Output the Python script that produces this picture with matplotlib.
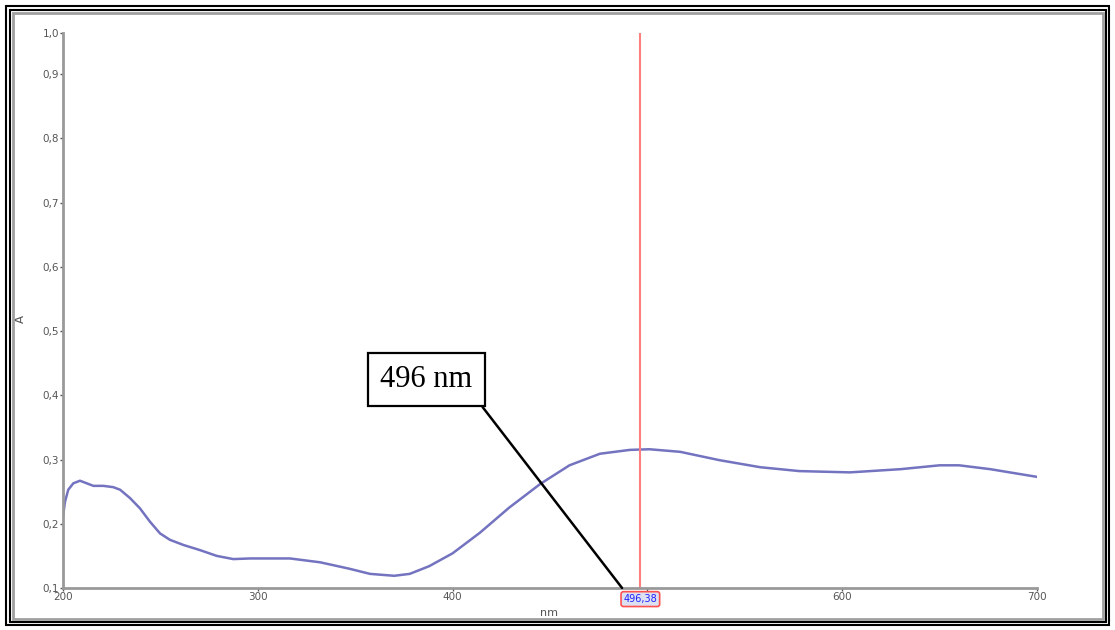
import numpy as np
import matplotlib.pyplot as plt
from matplotlib.patches import Rectangle

# absorption spectrum
wavelength = [200, 201, 202.7, 205.3, 208.7, 211.3, 215.6, 220.7, 225.8,
              229.3, 234.4, 239.5, 244.7, 249.8, 254.9, 261.8, 270.3, 278.9,
              287.4, 296, 304.6, 316.5, 332, 347, 357.6, 370, 378, 388,
              400, 414, 429, 445, 460, 475.6, 491, 501, 516.8, 537, 558,
              578, 604, 630, 650, 660, 676, 700]
absorb = [0.211, 0.234, 0.253, 0.263, 0.267, 0.264, 0.259, 0.259, 0.257,
          0.253, 0.240, 0.224, 0.203, 0.185, 0.175, 0.167, 0.159, 0.150,
          0.145, 0.146, 0.146, 0.146, 0.140, 0.130, 0.122, 0.119, 0.122,
          0.134, 0.154, 0.186, 0.225, 0.262, 0.291, 0.309, 0.315, 0.316,
          0.312, 0.299, 0.288, 0.282, 0.280, 0.285, 0.291, 0.291, 0.285,
          0.273]

peak = 496.38
y_ticks = [0.1, 0.2, 0.3, 0.4, 0.5, 0.6, 0.7, 0.8, 0.9]
x_ticks = [200, 300, 400, 500, 600, 700]
# the 500 label sits under the cursor readout, so it is not shown
x_labels = ['200', '300', '400', '', '600', '700']
y_top = 0.964

fig = plt.figure(figsize=(11.15, 6.3), dpi=100)
W, H = 1115, 630

# window frame
def frame(x0, y0, x1, y1, color, lw):
    fig.patches.append(Rectangle((x0 / W, 1 - y1 / H), (x1 - x0) / W,
                                 (y1 - y0) / H, transform=fig.transFigure,
                                 fill=False, edgecolor=color, lw=lw))

frame(6, 6, 1109, 625, 'black', 1.5)
frame(10, 10, 1106, 622, 'black', 1.5)
frame(13, 13, 1103, 619, '#a0a0a0', 2)

ax = fig.add_axes([63 / W, 1 - 588 / H, (1037 - 63) / W, (588 - 33) / H])
ax.plot(wavelength, absorb, color='#7373c0', lw=1.8)
ax.axvline(peak, color='#ff8080', lw=1.5)

ax.set_xlim(200, 700)
ax.set_ylim(0.1, y_top)
ax.set_yticks(y_ticks + [y_top])
ax.set_yticklabels(['{:.1f}'.format(v).replace('.', ',') for v in y_ticks] + ['1,0'])
ax.set_xticks(x_ticks)
ax.set_xticklabels(x_labels)
ax.tick_params(labelsize=7.5, colors='#555555', length=2, width=1, pad=1)
for s in ['top', 'right']:
    ax.spines[s].set_visible(False)
for s in ['left', 'bottom']:
    ax.spines[s].set_color('#999999')
    ax.spines[s].set_linewidth(2)

ax.set_xlabel('nm', fontsize=8, color='#555555')
ax.set_ylabel('A', fontsize=8.5, color='#555555')
ax.xaxis.set_label_coords(0.499, -0.036)
ax.yaxis.set_label_coords(-0.037, 0.485)

# cursor readout under the axis
ax.text(peak, -0.02, '496,38', transform=ax.get_xaxis_transform(),
        ha='center', va='center', fontsize=7, color='#2020ff', zorder=10,
        clip_on=False,
        bbox=dict(boxstyle='round,pad=0.25', fc='#dde0f0', ec='#ff5050', lw=1.2))

ax.annotate('496 nm', xy=(487, 0.1), xytext=(386.6, 0.4245),
            fontsize=22, family='Liberation Serif', ha='center', va='center',
            bbox=dict(boxstyle='square,pad=0.4', fc='white', ec='black', lw=1.6),
            arrowprops=dict(arrowstyle='-', color='black', lw=1.8,
                            relpos=(1, 0), shrinkA=0, shrinkB=0))

fig.savefig('out.png', dpi=100)
